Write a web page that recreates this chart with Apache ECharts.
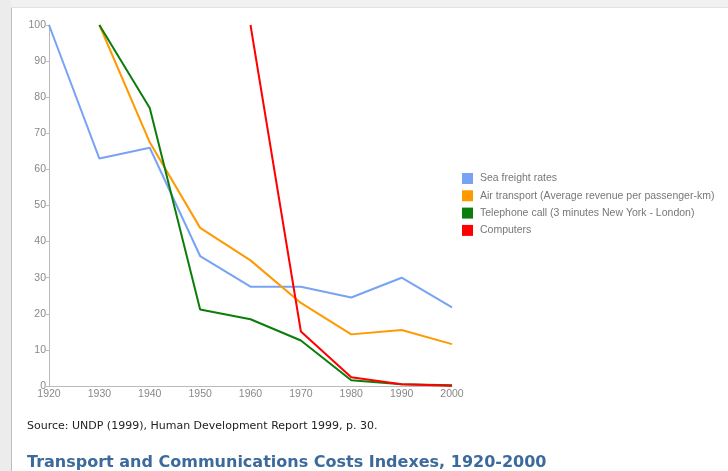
<!DOCTYPE html>
<html><head><meta charset="utf-8">
<script src="https://cdn.jsdelivr.net/npm/echarts@6/dist/echarts.min.js"></script>
<style>html,body{margin:0;padding:0;background:#fff}#c{width:728px;height:471px}</style>
</head><body><div id="c"></div>
<script>
const years = ['1920','1930','1940','1950','1960','1970','1980','1990','2000'];
const seaFreight = [100, 63, 66, 36, 27.5, 27.5, 24.5, 30, 21.8];
const airTransport = [null, 100, 67.5, 43.8, 34.8, 23, 14.3, 15.5, 11.6];
const telephone = [null, 100, 77, 21.2, 18.5, 12.6, 1.6, 0.5, 0.2];
const computers = [null, null, null, null, 100, 15.1, 2.4, 0.5, 0.1];
const yTicks = [0, 10, 20, 30, 40, 50, 60, 70, 80, 90, 100];
const names = ['Sea freight rates','Air transport (Average revenue per passenger-km)','Telephone call (3 minutes New York - London)','Computers'];
const colors = ['#78a3f5','#ff9900','#0a7d0a','#ff0000'];
const seriesData = [seaFreight, airTransport, telephone, computers];

const chart = echarts.init(document.getElementById('c'));
chart.setOption({
  animation: false,
  backgroundColor: '#ffffff',
  graphic: [
    {type:'rect', shape:{x:0,y:0,width:728,height:8}, style:{fill:'#f1f1f1'}, silent:true, z:-10},
    {type:'rect', shape:{x:0,y:7,width:728,height:1}, style:{fill:'#e2e2e2'}, silent:true, z:-10},
    {type:'rect', shape:{x:0,y:0,width:11,height:471}, style:{fill:'#ececec'}, silent:true, z:-10},
    {type:'rect', shape:{x:11,y:8,width:1,height:463}, style:{fill:'#bdbdbd'}, silent:true, z:-10},
    {type:'text', left:27, top:421, style:{text:'Source: UNDP (1999), Human Development Report 1999, p. 30.', fill:'#222', font:'11px "DejaVu Sans"'}},
    {type:'text', left:27, top:455, style:{text:'Transport and Communications Costs Indexes, 1920-2000', fill:'#3d6a9c', font:'bold 16px "DejaVu Sans"'}}
  ],
  legend: {
    orient:'vertical', left:457, top:168, itemWidth:11, itemHeight:11, itemGap:6.3,
    icon:'rect',
    textStyle:{color:'#777', fontSize:10.5, fontFamily:'Arial', padding:[0,0,0,2]},
    data: names
  },
  grid: {left:49, right:276, top:25, bottom:85},
  xAxis: {
    type:'category', data: years, boundaryGap:false,
    axisLine:{lineStyle:{color:'#bbb', width:1}},
    axisTick:{show:false},
    axisLabel:{color:'#888', fontSize:10.5, fontFamily:'Arial', margin:3, interval:0},
    splitLine:{show:false}
  },
  yAxis: {
    type:'value', min:0, max:100, interval:10,
    axisLine:{show:true, lineStyle:{color:'#bbb', width:1}},
    axisTick:{show:true, length:3, lineStyle:{color:'#bbb'}},
    axisLabel:{color:'#888', fontSize:10.5, fontFamily:'Arial', margin:3},
    splitLine:{show:false}
  },
  series: names.map((n,i)=>({
    name:n, type:'line', data: seriesData[i], showSymbol:false, symbol:'none',
    connectNulls:false, lineStyle:{width:2, color:colors[i]}, itemStyle:{color:colors[i]}
  }))
});
</script></body></html>
